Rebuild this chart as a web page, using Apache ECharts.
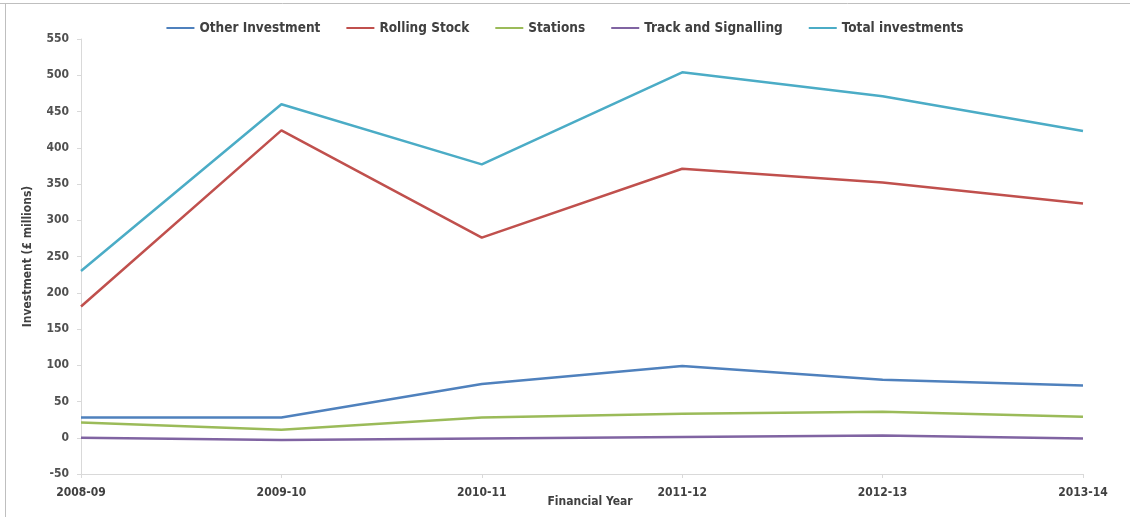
<!DOCTYPE html>
<html>
<head>
<meta charset="utf-8">
<style>
  html, body { margin: 0; padding: 0; background: #fff; }
  #chart { width: 1130px; height: 517px; }
</style>
<script src="https://cdn.jsdelivr.net/npm/echarts@6/dist/echarts.min.js"></script>
</head>
<body>
<div id="chart"></div>
<script>
// Financial years on the category axis
var years = ['2008-09', '2009-10', '2010-11', '2011-12', '2012-13', '2013-14'];

// Investment by area, £ millions
var otherInvestment   = [28, 28, 74, 99, 80, 72];
var rollingStock      = [181, 424, 276, 371, 352, 323];
var stations          = [21, 11, 28, 33, 36, 29];
var trackSignalling   = [0, -3, -1, 1, 3, -1];
var totalInvestments  = [230, 460, 377, 504, 471, 423];

// Value axis ticks
var yMin = -50, yMax = 550, yStep = 50;

var FONT = '"Liberation Sans Narrow", "DejaVu Sans Condensed", "Liberation Sans", sans-serif';

var seriesDefs = [
  { name: 'Other Investment',     data: otherInvestment,  color: '#4F81BD' },
  { name: 'Rolling Stock',        data: rollingStock,     color: '#C0504D' },
  { name: 'Stations',             data: stations,         color: '#9BBB59' },
  { name: 'Track and Signalling', data: trackSignalling,  color: '#8064A2' },
  { name: 'Total investments',    data: totalInvestments, color: '#4BACC6' }
];

var chart = echarts.init(document.getElementById('chart'), null, { renderer: 'canvas' });

chart.setOption({
  animation: false,
  backgroundColor: '#ffffff',
  textStyle: { fontFamily: FONT },
  grid: { left: 81, right: 47, top: 39, bottom: 43, containLabel: false, outerBoundsMode: 'none' },
  legend: {
    top: 16,
    left: 'center',
    icon: 'rect',
    itemWidth: 28,
    itemHeight: 2,
    itemGap: 26,
    textStyle: { fontFamily: FONT, fontSize: 13.5, fontWeight: 'bold', color: '#404040' },
    data: seriesDefs.map(function (s) { return s.name; })
  },
  xAxis: {
    type: 'category',
    data: years,
    boundaryGap: false,
    name: 'Financial Year',
    nameLocation: 'middle',
    nameGap: 22,
    nameMoveOverlap: false,
    nameTextStyle: { fontFamily: FONT, fontSize: 12, fontWeight: 'bold', color: '#404040', padding: [0, 0, 0, 16] },
    axisLine: { onZero: false, lineStyle: { color: '#D9D9D9', width: 1 } },
    axisTick: { show: true, length: 4, lineStyle: { color: '#D9D9D9' } },
    axisLabel: { margin: 13, fontFamily: FONT, fontSize: 12, fontWeight: 'bold', color: '#404040' },
    splitLine: { show: false }
  },
  yAxis: {
    type: 'value',
    min: yMin,
    max: yMax,
    interval: yStep,
    name: 'Investment (£ millions)',
    nameLocation: 'middle',
    nameGap: 47,
    nameRotate: 90,
    nameMoveOverlap: false,
    nameTextStyle: { fontFamily: FONT, fontSize: 12, fontWeight: 'bold', color: '#404040' },
    axisLine: { show: true, lineStyle: { color: '#D9D9D9', width: 1 } },
    axisTick: { show: true, length: 4, lineStyle: { color: '#D9D9D9' } },
    axisLabel: { margin: 12, fontFamily: FONT, fontSize: 12, fontWeight: 'bold', color: '#505050' },
    splitLine: { show: false }
  },
  series: seriesDefs.map(function (s) {
    return {
      name: s.name,
      type: 'line',
      data: s.data,
      showSymbol: false,
      symbol: 'none',
      color: s.color,
      lineStyle: { color: s.color, width: 2.5 },
      itemStyle: { color: s.color }
    };
  }),
  graphic: [
    { type: 'line', shape: { x1: 0, y1: 3.5, x2: 1130, y2: 3.5 }, style: { stroke: '#BFBFBF', lineWidth: 1 }, silent: true },
    { type: 'line', shape: { x1: 5.5, y1: 3, x2: 5.5, y2: 517 }, style: { stroke: '#BFBFBF', lineWidth: 1 }, silent: true }
  ]
});
</script>
</body>
</html>
